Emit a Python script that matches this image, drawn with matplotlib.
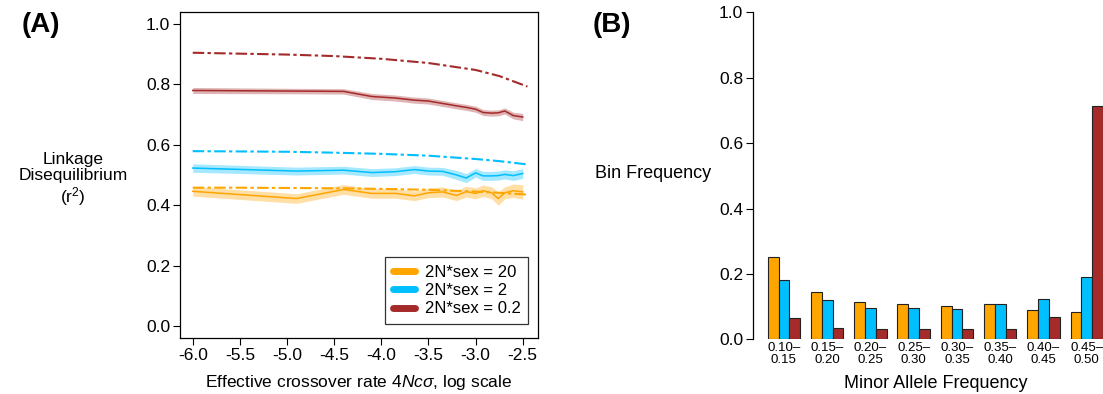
import numpy as np
import matplotlib
matplotlib.use('Agg')
import matplotlib.pyplot as plt

plt.rcParams['font.family'] = ['Liberation Sans', 'DejaVu Sans']
plt.rcParams['axes.unicode_minus'] = False
plt.rcParams['mathtext.fontset'] = 'custom'
plt.rcParams['mathtext.rm'] = 'Liberation Sans'
plt.rcParams['mathtext.it'] = 'Liberation Sans:italic'

# ---- Panel A data: LD (r^2) vs log10 crossover rate ----
x_obs = [-6.0, -4.9, -4.4, -4.1, -3.85, -3.65, -3.5, -3.35, -3.2, -3.1,
         -3.0, -2.92, -2.83, -2.76, -2.69, -2.6, -2.5]
ld_sex20 = [0.446, 0.422, 0.452, 0.439, 0.439, 0.431, 0.441, 0.444, 0.432, 0.445,
            0.439, 0.448, 0.441, 0.422, 0.441, 0.448, 0.444]
ld_sex2 = [0.523, 0.513, 0.516, 0.508, 0.511, 0.518, 0.513, 0.512, 0.500, 0.490,
           0.507, 0.497, 0.497, 0.498, 0.502, 0.498, 0.505]
ld_sex02 = [0.780, 0.778, 0.777, 0.760, 0.755, 0.748, 0.745, 0.737, 0.729, 0.724,
            0.718, 0.707, 0.705, 0.706, 0.712, 0.697, 0.692]
ci_sex20 = [0.016, 0.016, 0.016, 0.016, 0.016, 0.016, 0.016, 0.017, 0.017, 0.018,
            0.018, 0.019, 0.020, 0.022, 0.020, 0.022, 0.024]
ci_sex2 = [0.014, 0.013, 0.013, 0.013, 0.013, 0.013, 0.013, 0.013, 0.015, 0.015,
           0.014, 0.015, 0.015, 0.015, 0.015, 0.016, 0.016]
ci_sex02 = [0.010, 0.009, 0.009, 0.010, 0.010, 0.010, 0.010, 0.010, 0.010, 0.010,
            0.010, 0.010, 0.010, 0.010, 0.010, 0.011, 0.012]

x_exp = [-6.0, -5.5, -5.0, -4.5, -4.0, -3.5, -3.0, -2.75, -2.45]
exp_sex20 = [0.458, 0.458, 0.457, 0.456, 0.454, 0.451, 0.445, 0.441, 0.435]
exp_sex2 = [0.579, 0.578, 0.577, 0.574, 0.570, 0.564, 0.553, 0.546, 0.535]
exp_sex02 = [0.905, 0.902, 0.899, 0.894, 0.885, 0.871, 0.848, 0.828, 0.793]

labels_a = ['2N*sex = 20', '2N*sex = 2', '2N*sex = 0.2']
colors = ['#FFA500', '#00BFFF', '#A52A2A']

# ---- Panel B data: minor allele frequency spectrum ----
maf_bins = ['0.10\u2013\n0.15', '0.15\u2013\n0.20', '0.20\u2013\n0.25', '0.25\u2013\n0.30',
            '0.30\u2013\n0.35', '0.35\u2013\n0.40', '0.40\u2013\n0.45', '0.45\u2013\n0.50']
freq_sex20 = [0.253, 0.146, 0.113, 0.109, 0.101, 0.107, 0.091, 0.083]
freq_sex2 = [0.181, 0.120, 0.097, 0.095, 0.093, 0.107, 0.122, 0.189]
freq_sex02 = [0.064, 0.036, 0.032, 0.031, 0.032, 0.031, 0.067, 0.712]

W, H = 1103, 394
fig = plt.figure(figsize=(W / 100, H / 100), dpi=100)

def fx(px):
    return px / W

def fy(py):
    return 1 - py / H

# Panel A
axA = fig.add_axes([fx(180), fy(338.3), fx(538 - 180), (338.3 - 11.7) / H])
obs = [ld_sex20, ld_sex2, ld_sex02]
cis = [ci_sex20, ci_sex2, ci_sex02]
exps = [exp_sex20, exp_sex2, exp_sex02]
for m, ci, e, c in zip(obs, cis, exps, colors):
    m = np.array(m)
    ci = np.array(ci)
    axA.fill_between(x_obs, m - ci, m + ci, color=c, alpha=0.35, lw=0)
    axA.plot(x_obs, m, color=c, lw=1.1)
    axA.plot(x_exp, e, color=c, lw=1.5, dashes=(5.5, 1.6, 1.6, 1.6))

axA.set_xlim(-6.135, -2.338)
axA.set_ylim(-0.041, 1.041)
axA.set_xticks([-6.0, -5.5, -5.0, -4.5, -4.0, -3.5, -3.0, -2.5])
axA.set_xticklabels(['%.1f' % v for v in [-6.0, -5.5, -5.0, -4.5, -4.0, -3.5, -3.0, -2.5]])
axA.set_yticks([0.0, 0.2, 0.4, 0.6, 0.8, 1.0])
axA.set_yticklabels(['%.1f' % v for v in [0.0, 0.2, 0.4, 0.6, 0.8, 1.0]])
axA.tick_params(labelsize=12.5, length=5, width=0.8, pad=2)
for s in axA.spines.values():
    s.set_linewidth(0.9)
axA.set_xlabel(r'Effective crossover rate 4$\it{Nc}\sigma$, log scale', fontsize=12.5, labelpad=7)

handles = [plt.Line2D([], [], color=c, lw=5, solid_capstyle='round') for c in colors]
leg = axA.legend(handles, labels_a, loc='lower right', bbox_to_anchor=(0.972, 0.044),
                 borderaxespad=0, fontsize=12, fancybox=False, framealpha=1,
                 edgecolor='#333333', handlelength=1.3, handletextpad=0.6,
                 labelspacing=0.2, borderpad=0.45)
leg.get_frame().set_linewidth(0.9)

fig.text(fx(73), fy(180), 'Linkage\nDisequilibrium\n(r$^2$)', ha='center', va='center',
         fontsize=12.5, linespacing=1.1)
fig.text(fx(22), fy(25), '(A)', fontsize=20, fontweight='bold', ha='left', va='center')

# Panel B
axB = fig.add_axes([fx(753), fy(339.3), fx(W - 753), (339.3 - 12.3) / H])
n = len(maf_bins)
group_left = np.arange(n) * 4 + 1
for j, (vals, c) in enumerate(zip([freq_sex20, freq_sex2, freq_sex02], colors)):
    axB.bar(group_left + j, vals, width=1, align='edge', color=c,
            edgecolor='#222222', linewidth=0.8)
axB.set_xlim(-0.36, 32.0)
axB.set_ylim(0, 1)
axB.set_yticks([0.0, 0.2, 0.4, 0.6, 0.8, 1.0])
axB.set_yticklabels(['%.1f' % v for v in [0.0, 0.2, 0.4, 0.6, 0.8, 1.0]])
axB.set_xticks(group_left + 1.5)
axB.set_xticklabels(maf_bins, fontsize=9.5, linespacing=1.0)
axB.tick_params(axis='x', length=0, pad=2)
axB.tick_params(axis='y', labelsize=12.5, length=5, width=0.8, pad=2)
for side in ['top', 'right', 'bottom']:
    axB.spines[side].set_visible(False)
axB.spines['left'].set_linewidth(0.9)

fig.text(fx(936), fy(383), 'Minor Allele Frequency', ha='center', va='center', fontsize=13)
fig.text(fx(595), fy(174), 'Bin Frequency', ha='left', va='center', fontsize=13)
fig.text(fx(593), fy(25), '(B)', fontsize=20, fontweight='bold', ha='left', va='center')

fig.savefig('out.png', dpi=100)
